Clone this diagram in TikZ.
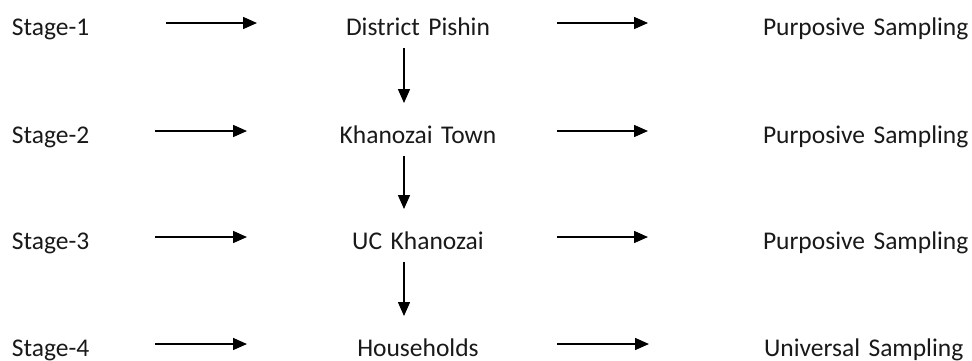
\documentclass[tikz,border=0pt]{standalone}
\usepackage{fontspec}
\setmainfont{Carlito}
\usetikzlibrary{arrows.meta}
\begin{document}
\begin{tikzpicture}[x=1pt,y=-1pt,
  lbl/.style={inner sep=0pt, outer sep=0pt, text height=24pt, text depth=0pt,
    font=\fontsize{25.5pt}{30pt}\selectfont, text=black!90},
  stagebox/.style={lbl, anchor=base west, text width=80pt, align=left},
  midbox/.style={lbl, anchor=base, text width=170pt, align=center},
  rightbox/.style={lbl, anchor=base west, text width=210pt, align=left},
  arr/.style={line width=1.5pt, -{Triangle[length=14pt,width=12pt]}},
  varr/.style={arr, shorten <=13pt, shorten >=16pt}
]
\useasboundingbox (0,0) rectangle (972,360);
% rows
\node[stagebox] (s1) at (12,35) {Stage-1};
\node[stagebox] (s2) at (12,143) {Stage-2};
\node[stagebox] (s3) at (12,249) {Stage-3};
\node[stagebox] (s4) at (12,356) {Stage-4};
\node[midbox] (m1) at (418,35) {District Pishin};
\node[midbox] (m2) at (418,143) {Khanozai Town};
\node[midbox] (m3) at (418,249) {UC Khanozai};
\node[midbox] (m4) at (418,356) {Households};
\node[rightbox] (r1) at (763,35) {Purposive Sampling};
\node[rightbox] (r2) at (763,143) {Purposive Sampling};
\node[rightbox] (r3) at (763,249) {Purposive Sampling};
\node[rightbox] (r4) at (764,356) {Universal Sampling};
% left arrows
\draw[arr, shorten <=74pt, shorten >=76pt] (s1) -- (m1);
\draw[arr, shorten <=63pt, shorten >=86pt] (s2) -- (m2);
\draw[arr, shorten <=63pt, shorten >=86pt] (s3) -- (m3);
\draw[arr, shorten <=63pt, shorten >=86pt] (s4) -- (m4);
% right arrows
\draw[arr, shorten <=54pt, shorten >=115pt] (m1) -- (r1);
\draw[arr, shorten <=54pt, shorten >=115pt] (m2) -- (r2);
\draw[arr, shorten <=54pt, shorten >=115pt] (m3) -- (r3);
\draw[arr, shorten <=54pt, shorten >=115pt] (m4) -- (r4);
% vertical arrows
\draw[varr] ([xshift=-14pt]m1.south) -- ([xshift=-14pt]m2.north);
\draw[varr] ([xshift=-14pt]m2.south) -- ([xshift=-14pt]m3.north);
\draw[varr] ([xshift=-14pt]m3.south) -- ([xshift=-14pt]m4.north);
\end{tikzpicture}
\end{document}
